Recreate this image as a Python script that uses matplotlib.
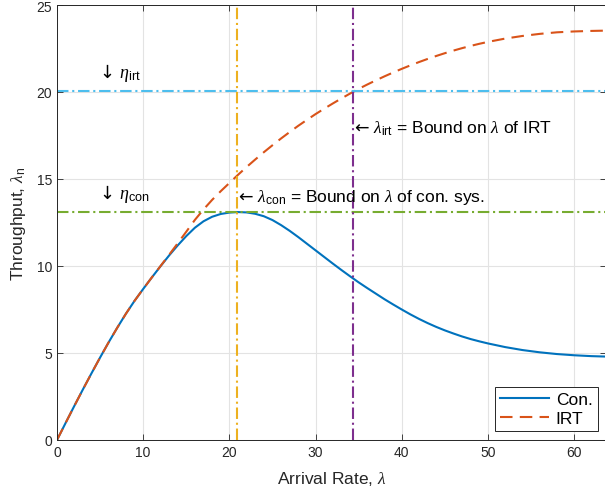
import matplotlib
matplotlib.use("Agg")
import matplotlib.pyplot as plt

plt.rcParams["font.family"] = ["Liberation Sans", "DejaVu Sans"]
plt.rcParams["mathtext.fontset"] = "custom"
plt.rcParams["mathtext.rm"] = "DejaVu Sans"
plt.rcParams["mathtext.sf"] = "Liberation Sans"
plt.rcParams["mathtext.it"] = "Liberation Serif:italic"

# arrival rate samples and throughput
lam = [0, 1, 2, 3, 4, 5, 6, 7, 8, 9, 10, 11, 12, 13, 14, 15, 16, 17, 18, 19,
       20, 21, 22, 23, 24, 25, 26, 27, 28, 29, 30, 31, 32, 33, 34, 35, 36, 37,
       38, 39, 40, 41, 42, 43, 44, 45, 46, 47, 48, 49, 50, 52, 54, 56, 58, 60,
       62, 64]
con = [0, 0.98, 1.95, 2.9, 3.83, 4.74, 5.62, 6.46, 7.26, 8.0, 8.68, 9.34, 9.98,
       10.6, 11.18, 11.72, 12.2, 12.57, 12.83, 12.99, 13.07, 13.1, 13.08, 13.0,
       12.86, 12.64, 12.35, 12.02, 11.66, 11.28, 10.9, 10.52, 10.14, 9.77, 9.41,
       9.06, 8.73, 8.41, 8.09, 7.79, 7.5, 7.22, 6.96, 6.72, 6.5, 6.3, 6.12, 5.95,
       5.8, 5.67, 5.55, 5.34, 5.17, 5.04, 4.94, 4.87, 4.82, 4.79]
irt = [0, 0.98, 1.95, 2.9, 3.83, 4.74, 5.62, 6.46, 7.26, 8.0, 8.68, 9.34, 9.99,
       10.64, 11.3, 11.97, 12.65, 13.25, 13.8, 14.3, 14.77, 15.24, 15.69, 16.12,
       16.54, 16.94, 17.33, 17.7, 18.06, 18.4, 18.73, 19.04, 19.34, 19.63, 19.91,
       20.18, 20.43, 20.67, 20.9, 21.12, 21.33, 21.53, 21.72, 21.9, 22.07, 22.23,
       22.38, 22.52, 22.65, 22.77, 22.88, 23.07, 23.22, 23.34, 23.43, 23.48,
       23.51, 23.53]

eta_irt = 20.06
eta_con = 13.1
lam_con = 20.9
lam_irt = 34.35

blue = "#0072BD"
orange = "#D95319"
yellow = "#EDB120"
purple = "#7E2F8E"
green = "#77AC30"
cyan = "#4DBEEE"
dark = "#262626"
dashdot = (5.5, 1.8, 1, 1.8)

fig = plt.figure(figsize=(6.05, 4.89), dpi=100)
ax = fig.add_axes([57 / 605, 48 / 489, 549 / 605, 435 / 489])

ax.plot(lam, con, color=blue, lw=1.5, label="Con.")
ax.plot(lam, irt, color=orange, lw=1.5, dashes=(6, 3.5), label="IRT")

ax.axhline(eta_irt, color=cyan, lw=1.5, dashes=dashdot)
ax.axhline(eta_con, color=green, lw=1.5, dashes=dashdot)
ax.axvline(lam_con, color=yellow, lw=1.5, dashes=dashdot)
ax.axvline(lam_irt, color=purple, lw=1.5, dashes=dashdot)

ax.text(4.6, eta_irt + 0.45, r"$\downarrow\,\eta_{\mathsf{irt}}$", fontsize=13,
        va="bottom")
ax.text(4.6, eta_con + 0.45, r"$\downarrow\,\eta_{\mathsf{con}}$", fontsize=13,
        va="bottom")
ax.text(lam_con - 0.1, 14.0,
        r"$\leftarrow\,\lambda_{\mathsf{con}}$" + " = Bound on " + r"$\lambda$" + " of con. sys.",
        fontsize=12.5, va="center")
ax.text(lam_irt - 0.1, 17.95,
        r"$\leftarrow\,\lambda_{\mathsf{irt}}$" + " = Bound on " + r"$\lambda$" + " of IRT",
        fontsize=12.5, va="center")

ax.set_xlim(0, 63.7)
ax.set_ylim(0, 25)
ax.set_xticks([0, 10, 20, 30, 40, 50, 60])
ax.set_yticks([0, 5, 10, 15, 20, 25])
ax.grid(True, color="#e3e3e3", lw=0.8)
ax.set_axisbelow(True)
ax.tick_params(direction="in", top=True, right=True, labelsize=10,
               colors=dark, length=4, width=0.6)
for s in ax.spines.values():
    s.set_color(dark)
    s.set_linewidth(0.7)

ax.set_xlabel(r"Arrival Rate, $\lambda$", fontsize=12.5, color=dark, labelpad=7)
ax.set_ylabel(r"Throughput, $\lambda_{\mathsf{n}}$", fontsize=12.5, color=dark, labelpad=6)

leg = ax.legend(loc="lower right", bbox_to_anchor=(0.985, 0.02), fontsize=12.5,
                fancybox=False, framealpha=1, edgecolor=dark, handlelength=2.8,
                borderpad=0.3, labelspacing=0.2, handletextpad=0.4, borderaxespad=0)
leg.get_frame().set_linewidth(0.7)

fig.savefig("out.png", dpi=100)
